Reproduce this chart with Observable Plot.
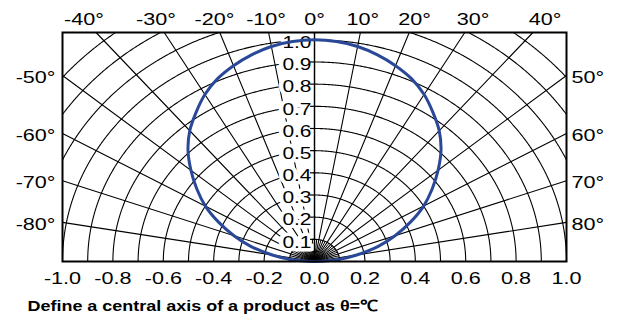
<!DOCTYPE html>
<html>
<head>
<meta charset="utf-8">
<script src="https://cdn.jsdelivr.net/npm/d3@7"></script>
<script src="https://cdn.jsdelivr.net/npm/@observablehq/plot@0.6"></script>
<style>
  html, body { margin: 0; padding: 0; background: #fff; }
</style>
</head>
<body>
<div id="chart"></div>
<script>
// ---- data ----
const curveAngles = [-90,-85,-80,-75,-70,-65,-60,-55,-50,-45,-40,-35,-30,-25,-20,-15,-10,-5,0,5,10,15,20,25,30,35,40,45,50,55,60,65,70,75,80,85,90];
const curveValues = [0,0.09,0.17,0.26,0.34,0.42,0.5,0.57,0.64,0.71,0.77,0.82,0.87,0.91,0.94,0.965,0.985,0.996,1.0,0.996,0.985,0.965,0.94,0.91,0.87,0.82,0.77,0.71,0.64,0.57,0.5,0.42,0.34,0.26,0.17,0.09,0];
const gridRadii = [0.1,0.2,0.3,0.4,0.5,0.6,0.7,0.8,0.9,1.0,1.1,1.2,1.3];
const spokeAngles = [-90,-80,-70,-60,-50,-40,-30,-20,-10,0,10,20,30,40,50,60,70,80,90];
const minorAngles = [-85,-75,-65,-55,-45,-35,-25,-15,-5,5,15,25,35,45,55,65,75,85];
const topLabelAngles = [-40,-30,-20,-10,0,10,20,30,40];
const leftLabelAngles = [-50,-60,-70,-80];
const rightLabelAngles = [50,60,70,80];
const xTicks = [-1.0,-0.8,-0.6,-0.4,-0.2,0.0,0.2,0.4,0.6,0.8,1.0];
const rTicks = [0.1,0.2,0.3,0.4,0.5,0.6,0.7,0.8,0.9,1.0];
const captionText = "Define a central axis of a product as θ=℃";

// ---- geometry helpers ----
const yTop = 1.033;          // top of the frame in radial units
const yLabel = 1.09;         // line of the top angle labels
const rad = d => d * Math.PI / 180;
const inFrame = (x, y) => x >= -1 - 1e-9 && x <= 1 + 1e-9 && y >= -1e-9 && y <= yTop + 1e-9;

// arcs, split into segments inside the frame
const arcPts = [];
for (const r of gridRadii) {
  let seg = 0, inside = false;
  for (let a = -90; a <= 90.0001; a += 0.25) {
    const x = r * Math.sin(rad(a)), y = r * Math.cos(rad(a));
    if (inFrame(x, y)) {
      if (!inside) { seg++; inside = true; }
      arcPts.push({x, y, z: r + "-" + seg});
    } else inside = false;
  }
}
// spokes to the frame edge
const spokePts = [];
for (const a of spokeAngles) {
  const s = Math.sin(rad(a)), c = Math.cos(rad(a));
  const tTop = c > 1e-9 ? yTop / c : Infinity;
  const tSide = Math.abs(s) > 1e-9 ? 1 / Math.abs(s) : Infinity;
  const t = Math.min(tTop, tSide);
  spokePts.push({x: 0, y: 0, z: a}, {x: t * s, y: t * c, z: a});
}
const minorPts = [];
for (const a of minorAngles) {
  const s = Math.sin(rad(a)), c = Math.cos(rad(a));
  minorPts.push({x: 0, y: 0, z: a}, {x: 0.1 * s, y: 0.1 * c, z: a});
}
const curve = curveAngles.map((a, i) => ({x: curveValues[i] * Math.sin(rad(a)), y: curveValues[i] * Math.cos(rad(a))}));

const font = "'Liberation Sans', Arial, Helvetica, sans-serif";
const fs = 17;

const svg = Plot.plot({
  width: 619,
  height: 317,
  marginLeft: 62,
  marginRight: 53,
  marginTop: 32,
  marginBottom: 56,
  x: {domain: [-1, 1], axis: null},
  y: {domain: [0, yTop], axis: null},
  style: {fontFamily: font, background: "#fff", color: "#000"},
  marks: [
    Plot.line(arcPts, {x: "x", y: "y", z: "z", stroke: "#000", strokeWidth: 1.1}),
    Plot.line(spokePts, {x: "x", y: "y", z: "z", stroke: "#000", strokeWidth: 1.1}),
    Plot.line(minorPts, {x: "x", y: "y", z: "z", stroke: "#000", strokeWidth: 1}),
    // radial labels on the central axis
    Plot.text(rTicks, {x: 0, y: d => d, text: d => d.toFixed(1), textAnchor: "end", lineAnchor: "middle", dx: -3, dy: 3, fontSize: 16.5, fill: "#000", stroke: "#fff", strokeWidth: 7}),
    Plot.ruleX([0], {stroke: "#000", strokeWidth: 1.4}),
    Plot.ruleY(rTicks, {y: d => d, x1: 0, x2: 0, insetLeft: -4, stroke: "#000", strokeWidth: 1.2}),
    // bottom x labels
    Plot.text(xTicks, {x: d => d, frameAnchor: "bottom", text: d => d.toFixed(1), textAnchor: "middle", lineAnchor: "middle", dy: 17, fontSize: fs, fill: "#000"}),
    // top angle labels
    Plot.text(topLabelAngles, {x: d => yLabel * Math.tan(rad(d)), y: () => yLabel, text: d => d + "°", textAnchor: "middle", lineAnchor: "middle", fontSize: fs, fill: "#000"}),
    // side angle labels
    Plot.text(leftLabelAngles, {x: () => -1, y: d => 1 / Math.tan(rad(Math.abs(d))), text: d => d + "°", textAnchor: "end", lineAnchor: "middle", dx: -7, dy: 2, fontSize: fs, fill: "#000"}),
    Plot.text(rightLabelAngles, {x: () => 1, y: d => 1 / Math.tan(rad(Math.abs(d))), text: d => d + "°", textAnchor: "start", lineAnchor: "middle", dx: 5, dy: 2, fontSize: fs, fill: "#000"}),
    // measured curve
    Plot.line(curve, {x: "x", y: "y", curve: "catmull-rom", stroke: "#2a4898", strokeWidth: 3}),
    Plot.frame({stroke: "#000", strokeWidth: 2}),
    // caption
    Plot.text([captionText], {frameAnchor: "bottom-left", text: d => d, textAnchor: "start", lineAnchor: "middle", dx: -35, dy: 45, fontSize: 15.5, fontWeight: "bold", fill: "#000"})
  ]
});

// horizontally widen the lettering like in the reference
d3.select(svg).selectAll("text").each(function() {
  const s = this.textContent.startsWith("Define") ? 1.16 : 1.27;
  const t = this.getAttribute("transform") || "";
  this.setAttribute("transform", t + ` scale(${s},1)`);
});

document.getElementById("chart").appendChild(svg);
</script>
</body>
</html>
